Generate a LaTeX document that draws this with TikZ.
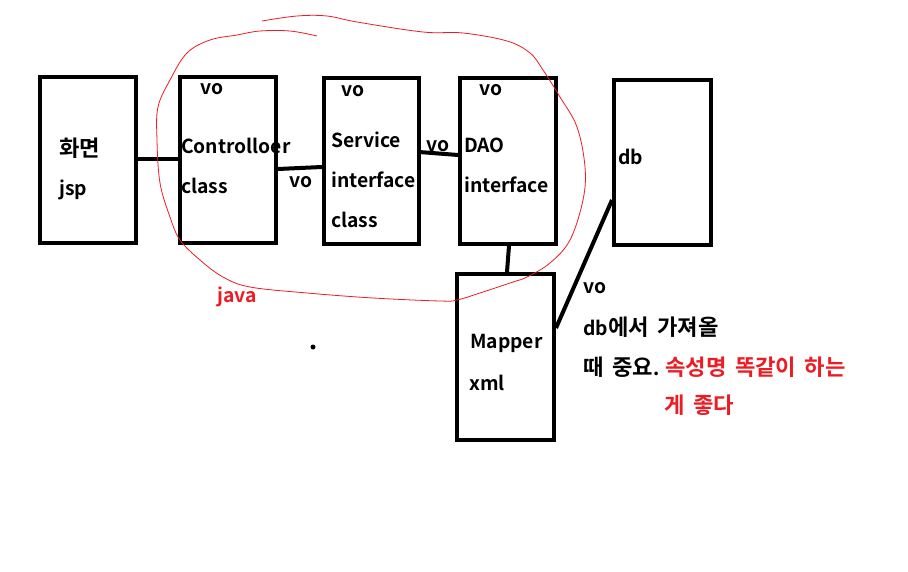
\documentclass[tikz,border=0pt]{standalone}
\usepackage{fontspec}
\setmainfont{Noto Sans CJK KR Bold}
\newfontfamily\kr{Noto Sans CJK KR Bold}[Scale=1.15,WordSpace=1.7]
\usetikzlibrary{calc}
\definecolor{pred}{RGB}{237,28,36}
\begin{document}
\begin{tikzpicture}[x=1pt,y=-1pt,
  box/.style={draw,line width=4pt,inner sep=0pt,minimum width=96pt,minimum height=166pt},
  conn/.style={line width=4pt},
  lbl/.style={anchor=west,inner sep=0pt,font=\fontsize{19.3}{22}\selectfont},
  rlbl/.style={lbl,text=pred},
  loop/.style={pred,line width=0.8pt}]
\useasboundingbox (0,0) rectangle (908,572);
\fill[white] (0,0) rectangle (908,572);
% boxes
\node[box] (jsp) at (88,160) {};
\node[box] (ctrl) at (228,160) {};
\node[box,minimum width=95pt] (svc) at (371.5,161) {};
\node[box] (dao) at (508,161) {};
\node[box,minimum width=97pt,minimum height=165pt] (db) at (662.5,162.5) {};
\node[box,minimum width=97pt] (mapper) at (505.5,357) {};
% connectors
\draw[conn] ($(jsp.east)+(0,-1)$) -- ($(ctrl.west)+(0,-1)$);
\draw[conn] ($(ctrl.east)+(0,9)$) -- ($(svc.west)+(0,6)$);
\draw[conn,line cap=round] ($(svc.east)+(-2,-9)$) -- ($(dao.west)+(0,-6)$);
\draw[conn] ($(dao.south)+(1,0)$) -- ($(mapper.north)+(1.5,0)$);
\draw[conn] ($(mapper.east)+(0,-29)$) -- ($(db.west)+(0,37.5)$);
% red freehand loop
\draw[loop] plot[smooth,tension=0.6] coordinates {
 (262,21) (297,16) (327,16) (357,22) (423,32) (463,33) (507,41) (530,53)
 (543,70) (560,97) (577,127) (585,167) (583,200) (570,240) (550,263)
 (527,277) (513,282) (483,292) (457,300) (440,301) (373,298) (307,293)
 (250,287) (223,277) (200,260) (180,240) (170,217) (160,183) (157,140)
 (158,107) (170,80) (187,53) (210,40) (237,35) (260,31) (290,31) (317,36)};
% labels
\node[lbl] (t1) at (59,148) {\kr 화면};
\node[lbl] (t2) at (59,190) {jsp};
\node[lbl] (t3) at (200,89) {vo};
\node[lbl] (t4) at (181,146) {Controlloer};
\node[lbl] (t5) at (181,186) {class};
\node[lbl] (t6) at (289,182) {vo};
\node[lbl] (t7) at (341,91) {vo};
\node[lbl] (t8) at (331,140) {Service};
\node[lbl] (t9) at (331,180) {interface};
\node[lbl] (t10) at (331,220) {class};
\node[lbl] (t11) at (426,146) {vo};
\node[lbl] (t12) at (479,90) {vo};
\node[lbl] (t13) at (464,145) {DAO};
\node[lbl] (t14) at (464,185) {interface};
\node[lbl] (t15) at (618,157) {db};
\node[lbl] (t16) at (470,343) {Mapper};
\node[lbl] (t17) at (469,383) {xml};
\node[lbl] (t18) at (583,288) {vo};
\node[lbl] (t19) at (583,327) {db{\kr 에서 가져올}};
\node[lbl] (t20) at (583,367) {{\kr 때 중요}.\hspace{6pt}\textcolor{pred}{\kr 속성명 똑같이 하는}};
\node[rlbl] (t21) at (664,405) {\kr 게 좋다};
\node[rlbl] (t22) at (217,297) {java};
\fill (313,347) circle (2.5);
\end{tikzpicture}
\end{document}
